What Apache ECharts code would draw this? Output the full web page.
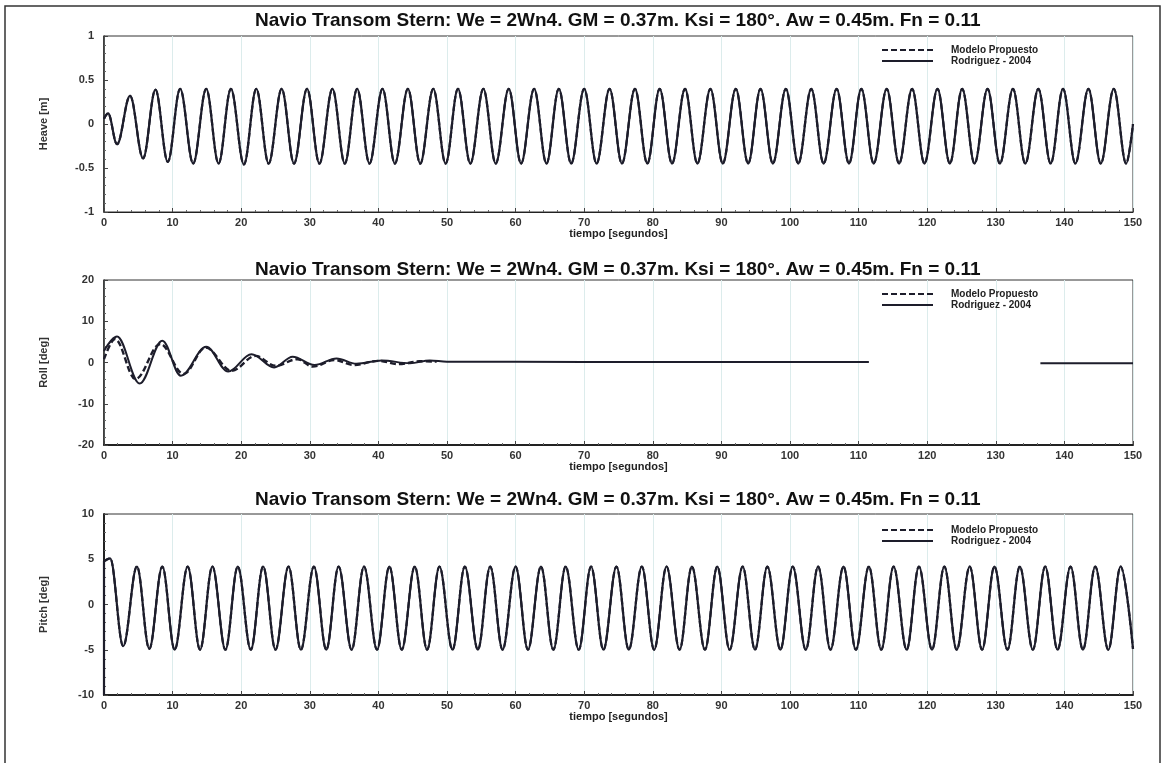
<!DOCTYPE html>
<html>
<head>
<meta charset="utf-8">
<script src="https://cdn.jsdelivr.net/npm/echarts@6/dist/echarts.min.js"></script>
<style>
  html, body { margin: 0; padding: 0; background: #fff; }
  #chart { width: 1169px; height: 763px; }
</style>
</head>
<body>
<div id="chart"></div>
<script>
// titulo comun a las tres figuras
var titulo = 'Navio Transom Stern: We = 2Wn4. GM = 0.37m. Ksi = 180°. Aw = 0.45m. Fn = 0.11';
var nombres = ['Modelo Propuesto', 'Rodriguez - 2004'];
var ejeX = 'tiempo [segundos]';
var ejesY = ['Heave [m]', 'Roll [deg]', 'Pitch [deg]'];

// Heave: picos y valles (t [s], valor [m])
var heaveT = [0, 0.6, 1.9, 3.8, 5.7, 7.5, 9.3, 11.1, 13.0, 14.9, 16.7, 18.5, 20.4, 22.2, 24.0, 25.9, 27.7, 29.6, 31.4, 33.3, 35.1,
  36.9, 38.7, 40.6, 42.4, 44.3, 46.1, 48.0, 49.8, 51.6, 53.4, 55.3, 57.1, 59.0, 60.8, 62.7, 64.5, 66.3, 68.1, 70.0, 71.8,
  73.7, 75.5, 77.4, 79.2, 81.0, 82.8, 84.7, 86.5, 88.4, 90.2, 92.1, 93.9, 95.7, 97.5, 99.4, 101.2, 103.1, 104.9, 106.8, 108.6,
  110.4, 112.2, 114.1, 115.9, 117.8, 119.6, 121.5, 123.3, 125.1, 126.9, 128.8, 130.6, 132.5, 134.3, 136.2, 138.0, 139.8, 141.6,
  143.5, 145.3, 147.2, 149.0, 150];
var heaveRod = [0.06, 0.12, -0.23, 0.32, -0.39, 0.39, -0.43, 0.40, -0.45, 0.40, -0.45, 0.40, -0.46, 0.40, -0.45, 0.40, -0.45, 0.40, -0.45, 0.40, -0.45,
  0.40, -0.45, 0.40, -0.45, 0.40, -0.45, 0.40, -0.45, 0.40, -0.45, 0.40, -0.45, 0.40, -0.45, 0.40, -0.45, 0.40, -0.45, 0.40, -0.45,
  0.40, -0.45, 0.40, -0.45, 0.40, -0.45, 0.40, -0.45, 0.40, -0.45, 0.40, -0.45, 0.40, -0.45, 0.40, -0.45, 0.40, -0.45, 0.40, -0.45,
  0.40, -0.45, 0.40, -0.45, 0.40, -0.45, 0.40, -0.45, 0.40, -0.45, 0.40, -0.45, 0.40, -0.45, 0.40, -0.45, 0.40, -0.45,
  0.40, -0.45, 0.40, -0.45, 0.0];
var heaveMod = heaveRod.slice(); // en la figura ambas curvas se superponen

// Roll
var rollRodT = [0, 1.9, 5.2, 8.5, 11.2, 14.9, 18.1, 21.5, 24.8, 27.5, 30.7, 33.9, 36.8, 40.5, 44.6, 47.5, 50, 60, 80, 100, 111.5, 124, 136.5, 150];
var rollRod = [2.8, 6.3, -5.1, 5.3, -3.2, 3.8, -2.2, 2.0, -1.2, 1.4, -0.6, 1.0, -0.3, 0.5, -0.2, 0.5, 0.2, 0.2, 0.1, 0.1, 0.1, null, -0.2, -0.2];
var rollModT = [0, 1.6, 4.6, 8.2, 11.6, 14.8, 18.6, 22.1, 25.0, 28.2, 30.4, 33.6, 36.4, 40.0, 43.0, 46.0, 48.5];
var rollMod = [0.8, 5.7, -4.0, 4.5, -2.8, 3.6, -2.0, 1.6, -0.8, 0.8, -1.0, 0.6, -0.6, 0.4, -0.4, 0.3, 0.2];

// Pitch
var pitchT = [0, 0, 0.9, 2.8, 4.8, 6.6, 8.5, 10.3, 12.2, 14.0, 15.8, 17.7, 19.5, 21.4, 23.2, 25.0, 26.9, 28.7, 30.6, 32.4, 34.2,
  36.1, 37.9, 39.8, 41.6, 43.4, 45.3, 47.1, 48.9, 50.8, 52.6, 54.5, 56.3, 58.1, 60.0, 61.8, 63.7, 65.5, 67.3, 69.2, 71.0,
  72.8, 74.7, 76.5, 78.4, 80.2, 82.0, 83.9, 85.7, 87.6, 89.4, 91.2, 93.1, 94.9, 96.7, 98.6, 100.4, 102.3, 104.1, 105.9, 107.8,
  109.6, 111.5, 113.3, 115.1, 117.0, 118.8, 120.7, 122.5, 124.3, 126.2, 128.0, 129.8, 131.7, 133.5, 135.4, 137.2, 139.0, 140.9,
  142.7, 144.5, 146.4, 148.2, 150];
var pitchRod = [-10, 4.8, 5.1, -4.6, 4.2, -4.9, 4.2, -5.0, 4.2, -5.0, 4.2, -5.0, 4.2, -5.0, 4.2, -5.0, 4.2, -5.0, 4.2, -5.0, 4.2,
  -5.0, 4.2, -5.0, 4.2, -5.0, 4.2, -5.0, 4.2, -5.0, 4.2, -5.0, 4.2, -5.0, 4.2, -5.0, 4.2, -5.0, 4.2, -5.0, 4.2,
  -5.0, 4.2, -5.0, 4.2, -5.0, 4.2, -5.0, 4.2, -5.0, 4.2, -5.0, 4.2, -5.0, 4.2, -5.0, 4.2, -5.0, 4.2, -5.0, 4.2,
  -5.0, 4.2, -5.0, 4.2, -5.0, 4.2, -5.0, 4.2, -5.0, 4.2, -5.0, 4.2, -5.0, 4.2, -5.0, 4.2, -5.0, 4.2,
  -5.0, 4.2, -5.0, 4.2, -4.9];
var pitchMod = pitchRod.slice(1);
var pitchModT = pitchT.slice(1);

var yMin = [-1, -20, -10], yMax = [1, 20, 10], yInt = [0.5, 10, 5];

function pares(t, v) {
  return t.map(function (x, i) { return [x, v[i]]; });
}

var fuente = 'Liberation Sans, Arial, sans-serif';
var tinta = '#1d1d2b';
var grids = [
  { left: 104, right: 36, top: 36, height: 176 },
  { left: 104, right: 36, top: 280, height: 165 },
  { left: 104, right: 36, top: 514, height: 181 }
];
var titleTops = [6, 255, 485];
var legendTops = [40, 284, 520];

// iconos de leyenda: trazo discontinuo y continuo
var iconDisc = 'path://M0,0h6v2h-6zM9,0h6v2h-6zM18,0h6v2h-6zM27,0h6v2h-6zM36,0h6v2h-6zM45,0h6v2h-6z';
var iconCont = 'path://M0,0h51v2h-51z';

var option = {
  backgroundColor: '#fff',
  animation: false,
  title: titleTops.map(function (t) {
    return {
      text: titulo, left: 250, top: t,
      textStyle: { fontFamily: fuente, fontSize: 19, fontWeight: 'bold', color: '#111' }
    };
  }),
  legend: legendTops.map(function (t) {
    return {
      data: [
        { name: nombres[0], icon: iconDisc },
        { name: nombres[1], icon: iconCont }
      ],
      orient: 'vertical', left: 877, top: t,
      itemWidth: 53, itemHeight: 2, itemGap: 1,
      itemStyle: { color: tinta },
      textStyle: { fontFamily: fuente, fontSize: 10, fontWeight: 'bold', color: '#222', padding: [0, 0, 0, 12] }
    };
  }),
  grid: grids.map(function (g) {
    return Object.assign({ show: true, borderColor: '#333', borderWidth: 1, backgroundColor: '#fff' }, g);
  }),
  xAxis: grids.map(function (g, i) {
    return {
      type: 'value', gridIndex: i, min: 0, max: 150, interval: 10,
      name: ejeX, nameLocation: 'middle', nameGap: 16,
      nameTextStyle: { fontFamily: fuente, fontSize: 11, fontWeight: 'bold', color: '#222' },
      axisLine: { onZero: false, lineStyle: { color: '#222', width: i === 0 ? 1.2 : 2 } },
      axisTick: { inside: true, length: 4, lineStyle: { color: '#444' } },
      minorTick: { show: true, splitNumber: 5, length: 2, lineStyle: { color: '#666' } },
      axisLabel: { fontFamily: fuente, fontSize: 11, fontWeight: 'bold', color: '#333', margin: 5 },
      splitLine: { show: true, lineStyle: { color: '#dcecec', width: 1 } }
    };
  }),
  yAxis: grids.map(function (g, i) {
    return {
      type: 'value', gridIndex: i, min: yMin[i], max: yMax[i], interval: yInt[i],
      name: ejesY[i], nameLocation: 'middle', nameGap: 55, nameRotate: 90,
      nameTextStyle: { fontFamily: fuente, fontSize: 11, fontWeight: 'bold', color: '#333' },
      axisLine: { show: true, onZero: false, lineStyle: { color: '#222', width: i === 2 ? 2 : 1.5 } },
      axisTick: { inside: true, length: 4, lineStyle: { color: '#444' } },
      minorTick: { show: true, splitNumber: 5, length: 2, lineStyle: { color: '#666' } },
      axisLabel: { fontFamily: fuente, fontSize: 11, fontWeight: 'bold', color: '#333', margin: 10 },
      splitLine: { show: false }
    };
  }),
  graphic: [{
    type: 'rect', shape: { x: 5, y: 6, width: 1155, height: 800 },
    style: { fill: 'none', stroke: '#333', lineWidth: 1.5 }, silent: true
  }],
  series: []
};

function linea(nombre, idx, datos, discont, ancho, z) {
  return {
    name: nombre, type: 'line', xAxisIndex: idx, yAxisIndex: idx,
    data: datos, showSymbol: false, symbol: 'none',
    smooth: 0.36, smoothMonotone: 'x', connectNulls: false, z: z,
    lineStyle: { color: tinta, width: ancho, type: discont ? [6, 3] : 'solid' },
    itemStyle: { color: tinta }
  };
}

option.series.push(
  linea(nombres[0], 0, pares(heaveT, heaveMod), true, 2.2, 2),
  linea(nombres[1], 0, pares(heaveT, heaveRod), false, 2.2, 3),
  linea(nombres[0], 1, pares(rollModT, rollMod), true, 2.4, 2),
  linea(nombres[1], 1, pares(rollRodT, rollRod), false, 2, 3),
  linea(nombres[0], 2, pares(pitchModT, pitchMod), true, 2.2, 2),
  linea(nombres[1], 2, pares(pitchT, pitchRod), false, 2.2, 3)
);

var chart = echarts.init(document.getElementById('chart'));
chart.setOption(option);
</script>
</body>
</html>
